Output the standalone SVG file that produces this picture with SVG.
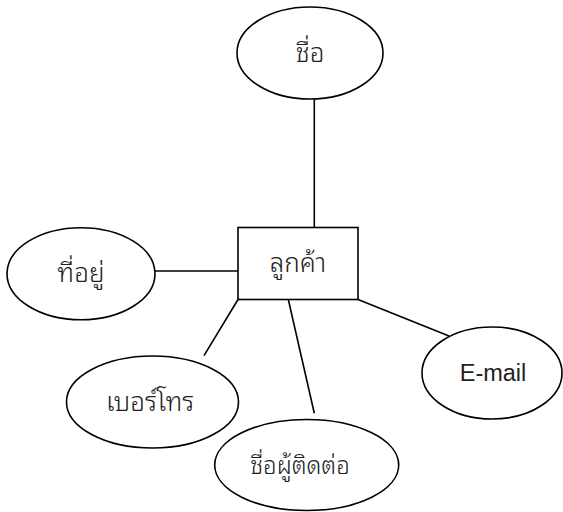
<svg xmlns="http://www.w3.org/2000/svg" width="563" height="512" viewBox="0 0 563 512">
<style>
.shape{fill:#fff;stroke:#000;stroke-width:1.6}
.conn line{stroke:#000;stroke-width:1.6}
.th{font-family:"Noto Sans Thai Looped","Norasi","Loma","Garuda","Noto Sans Thai","Noto Sans",sans-serif;font-size:26px;font-weight:300;fill:#222;text-anchor:middle}
.en{font-family:"Liberation Sans",Arial,sans-serif;font-size:23.5px;fill:#222;text-anchor:middle}
</style>
<rect width="563" height="512" fill="#fff"/>
<g id="connectors" class="conn">
<line x1="314.3" y1="99" x2="314.3" y2="227.5"/>
<line x1="155" y1="271" x2="238" y2="271"/>
<line x1="238" y1="299.5" x2="204" y2="355.7"/>
<line x1="288.3" y1="299.5" x2="314.3" y2="413.3"/>
<line x1="358" y1="299.5" x2="449" y2="336"/>
</g>
<g id="name">
<ellipse class="shape" cx="310" cy="53" rx="73" ry="46"/>
<text class="th" x="310" y="62">ชื่อ</text>
</g>
<g id="customer">
<rect class="shape" x="238" y="227.5" width="120" height="72"/>
<text class="th" x="298" y="272">ลูกค้า</text>
</g>
<g id="address">
<ellipse class="shape" cx="81" cy="273.7" rx="74" ry="46"/>
<text class="th" x="81" y="281.7">ที่อยู่</text>
</g>
<g id="phone">
<ellipse class="shape" cx="152.5" cy="402" rx="86" ry="46"/>
<text class="th" x="150" y="410.5">เบอร์โทร</text>
</g>
<g id="contact">
<ellipse class="shape" cx="306.7" cy="465" rx="92" ry="45.5"/>
<text class="th" x="300" y="474" style="font-size:24px">ชื่อผู้ติดต่อ</text>
</g>
<g id="email">
<ellipse class="shape" cx="492" cy="373" rx="70" ry="46"/>
<text class="en" x="493" y="381">E-mail</text>
</g>
</svg>
